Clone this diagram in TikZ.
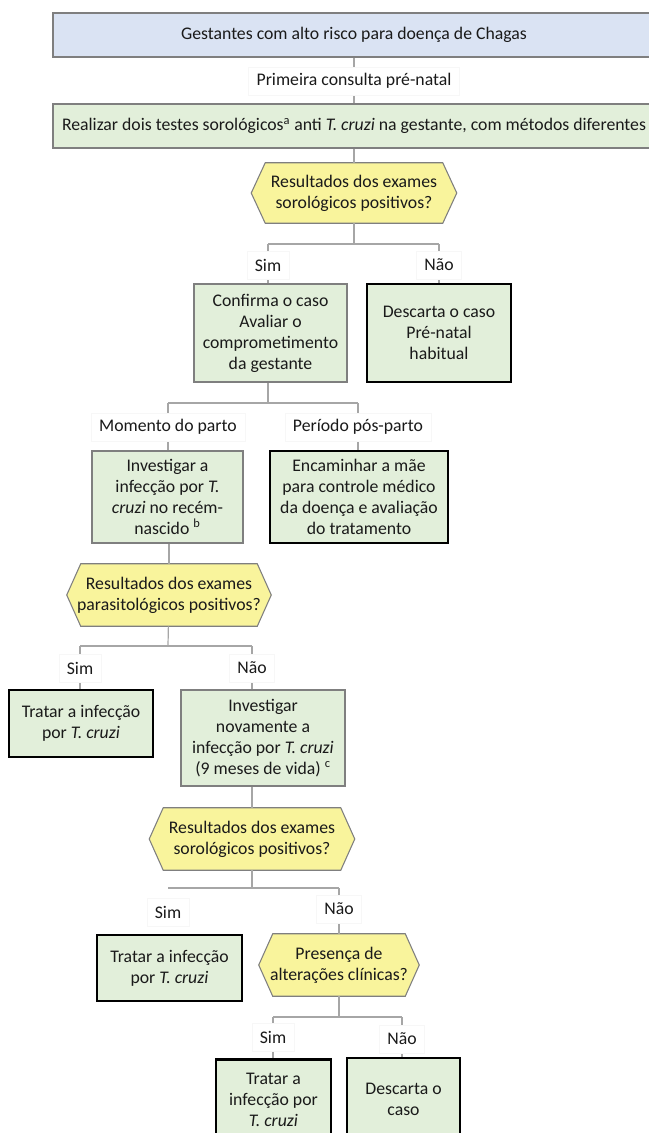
\documentclass[tikz,border=0pt]{standalone}
\usepackage{fontspec}
\setmainfont{Carlito}
\usetikzlibrary{backgrounds,calc}
\definecolor{bluef}{HTML}{DAE3F3}
\definecolor{greenf}{HTML}{E2EFDA}
\definecolor{yellowf}{HTML}{F9F49C}
\definecolor{bord}{HTML}{7F7F7F}
\definecolor{connc}{HTML}{A6A6A6}
\definecolor{txt}{HTML}{1A1A1A}
\newcommand\hexdraw[2]{\draw[hexst] (#1.west) -- ($(#1.north west)+(#2,0)$) -- ($(#1.north east)+(-#2,0)$) -- (#1.east) -- ($(#1.south east)+(-#2,0)$) -- ($(#1.south west)+(#2,0)$) -- cycle;}
\begin{document}
\begin{tikzpicture}[x=0.75pt,y=-0.75pt,
  every node/.style={font=\fontsize{13.3}{15.75}\selectfont, text=txt, align=center, inner sep=0pt},
  sz/.style 2 args={minimum width=#1*0.75pt, minimum height=#2*0.75pt},
  box/.style={rectangle, draw=bord, line width=0.8pt, fill=greenf},
  thickbox/.style={rectangle, draw=black, line width=1.7pt, fill=greenf},
  hexnode/.style={rectangle},
  hexst/.style={draw=bord, line width=0.8pt, fill=yellowf},
  lbl/.style={rectangle, fill=white, draw=black!3, inner xsep=6pt, minimum height=21pt},
  cn/.style={draw=connc, line width=0.9pt}]
\useasboundingbox (0,0) rectangle (649,1133);

% nodes
\node[box, fill=bluef, sz={602}{44}] (top) at (354,35) {Gestantes com alto risco para doença de Chagas};
\node[lbl] (pc) at (354,81) {Primeira consulta pré-natal};
\node[box, sz={602}{44}] (b2) at (354,126) {Realizar dois testes sorológicos\textsuperscript{a} anti \textit{T. cruzi} na gestante, com métodos diferentes};
\node[hexnode, sz={205}{60}] (h1) at (354,193) {Resultados dos exames\\sorológicos positivos?};
\coordinate (j1) at (354,244);
\node[lbl] (s1) at (268,265) {Sim};
\node[lbl] (n1) at (439,265) {Não};
\node[box, sz={153}{98}] (c1) at (270.5,333) {Confirma o caso\\Avaliar o\\comprometimento\\da gestante};
\node[thickbox, sz={144}{98}] (d1) at (439,333) {Descarta o caso\\Pré-natal\\habitual};
\coordinate (j2) at (268,403);
\node[lbl] (mp) at (168,427) {Momento do parto};
\node[lbl] (pp) at (358,427) {Período pós-parto};
\node[box, sz={151}{92}] (i1) at (167.5,497) {Investigar a\\infecção por \textit{T.}\\\textit{cruzi} no recém-\\nascido \textsuperscript{b}};
\node[thickbox, sz={178}{92}] (e1) at (359,497) {Encaminhar a mãe\\para controle médico\\da doença e avaliação\\do tratamento};
\node[hexnode, sz={204}{62}] (h2) at (169,595) {Resultados dos exames\\parasitológicos positivos?};
\coordinate (j3) at (168,646);
\node[lbl] (s3) at (80,668) {Sim};
\node[lbl] (n3) at (252,668) {Não};
\node[thickbox, sz={144}{67}] (t1) at (81,723.5) {Tratar a infecção\\por \textit{T. cruzi}};
\node[box, sz={164}{96}] (i2) at (263,738) {Investigar\\novamente a\\infecção por \textit{T. cruzi}\\(9 meses de vida) \textsuperscript{c}};
\node[hexnode, sz={205}{62}] (h3) at (252,839) {Resultados dos exames\\sorológicos positivos?};
\coordinate (j4) at (252,888);
\node[lbl] (s4) at (168,912) {Sim};
\node[lbl] (n4) at (339,909) {Não};
\node[thickbox, sz={145}{66}] (t2) at (169.5,968) {Tratar a infecção\\por \textit{T. cruzi}};
\node[hexnode, sz={160}{62}] (h4) at (339,965) {Presença de\\alterações clínicas?};
\coordinate (j5) at (339,1017);
\node[lbl] (s5) at (273,1037) {Sim};
\node[lbl] (n5) at (402,1039) {Não};
\node[thickbox, sz={115}{81}] (t3) at (273.5,1100) {Tratar a\\infecção por\\\textit{T. cruzi}};
\node[thickbox, sz={113}{82}] (d2) at (403.5,1099) {Descarta o\\caso};

\begin{scope}[on background layer]
\hexdraw{h1}{14}
\hexdraw{h2}{14}
\hexdraw{h3}{14}
\hexdraw{h4}{14}
% connectors
\draw[cn] (top) -- (pc);
\draw[cn] (pc) -- (b2);
\draw[cn] (b2) -- (h1);
\draw[cn] (h1) -- (j1);
\draw[cn] (s1 |- j1) -- (n1 |- j1);
\draw[cn] (s1 |- j1) -- (s1);
\draw[cn] (n1 |- j1) -- (n1);
\draw[cn] (s1) -- (s1 |- c1.north);
\draw[cn] (n1) -- (n1 |- d1.north);
\draw[cn] (c1.south -| j2) -- (j2);
\draw[cn] (mp |- j2) -- (pp |- j2);
\draw[cn] (mp |- j2) -- (mp);
\draw[cn] (pp |- j2) -- (pp);
\draw[cn] (mp) -- (mp |- i1.north);
\draw[cn] (pp) -- (pp |- e1.north);
\draw[cn] (i1.south -| h2) -- (h2);
\draw[cn] (h2) -- (j3);
\draw[cn] (s3 |- j3) -- (n3 |- j3);
\draw[cn] (s3 |- j3) -- (s3);
\draw[cn] (n3 |- j3) -- (n3);
\draw[cn] (s3) -- (s3 |- t1.north);
\draw[cn] (n3) -- (n3 |- i2.north);
\draw[cn] (i2.south -| h3) -- (h3);
\draw[cn] (h3) -- (j4);
\draw[cn] (s4 |- j4) -- (n4 |- j4);
\draw[cn] (n4 |- j4) -- (n4);
\draw[cn] (n4) -- (h4);
\draw[cn] (h4) -- (j5);
\draw[cn] (s5 |- j5) -- (n5 |- j5);
\draw[cn] (s5 |- j5) -- (s5);
\draw[cn] (n5 |- j5) -- (n5);
\draw[cn] (s5) -- (s5 |- t3.north);
\draw[cn] (n5) -- (n5 |- d2.north);
\end{scope}
\end{tikzpicture}
\end{document}
